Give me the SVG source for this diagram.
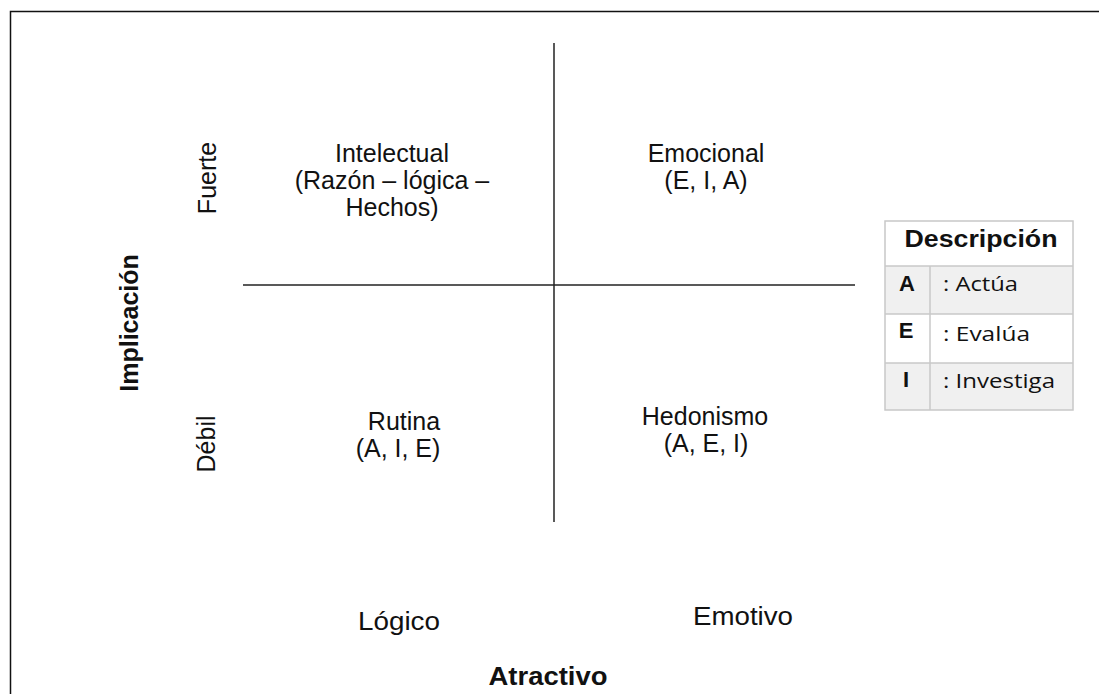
<svg xmlns="http://www.w3.org/2000/svg" width="1099" height="694" viewBox="0 0 1099 694">
<style>
.t{font-family:"Liberation Sans",Arial,sans-serif;font-size:25px;fill:#111;text-anchor:middle}
.b{font-family:"Liberation Sans",Arial,sans-serif;font-weight:bold;fill:#111;text-anchor:middle}
.c{font-family:"Open Sans","Liberation Sans",sans-serif;font-size:20px;fill:#111}
.ln{stroke:#222;stroke-width:1.5;fill:none}
.g{stroke:#c8c8c8;stroke-width:1.5}
</style>
<rect x="0" y="0" width="1099" height="694" fill="#fff"/>
<rect x="10.5" y="11.5" width="1100" height="700" fill="none" stroke="#111" stroke-width="1.5"/>
<g id="connectors">
<line class="ln" x1="554" y1="43" x2="554" y2="522"/>
<line class="ln" x1="243" y1="285" x2="855" y2="285"/>
</g>
<g id="intelectual">
<text class="t" x="392" y="162">Intelectual</text>
<text class="t" x="392" y="189">(Razón – lógica –</text>
<text class="t" x="392" y="216">Hechos)</text>
</g>
<g id="emocional">
<text class="t" x="706" y="162">Emocional</text>
<text class="t" x="706" y="189">(E, I, A)</text>
</g>
<g id="rutina">
<text class="t" x="404" y="430">Rutina</text>
<text class="t" x="398" y="457">(A, I, E)</text>
</g>
<g id="hedonismo">
<text class="t" x="705" y="425">Hedonismo</text>
<text class="t" x="706" y="452">(A, E, I)</text>
</g>
<g id="axis-y">
<text class="t" transform="translate(216,178) rotate(-90)">Fuerte</text>
<text class="t" transform="translate(215,444) rotate(-90)">Débil</text>
<text class="b" font-size="25" transform="translate(138,323) rotate(-90)">Implicación</text>
</g>
<g id="axis-x">
<text class="t" x="399" y="630" textLength="82" lengthAdjust="spacingAndGlyphs">Lógico</text>
<text class="t" x="743" y="625" textLength="100" lengthAdjust="spacingAndGlyphs">Emotivo</text>
<text class="b" font-size="25" x="548" y="685" textLength="119" lengthAdjust="spacingAndGlyphs">Atractivo</text>
</g>
<g id="legend">
<rect x="885" y="266" width="188" height="48" fill="#f0f0f0"/>
<rect x="885" y="363" width="188" height="47" fill="#f0f0f0"/>
<rect x="885" y="221" width="188" height="189" fill="none" class="g"/>
<line class="g" x1="885" y1="266" x2="1073" y2="266"/>
<line class="g" x1="885" y1="314" x2="1073" y2="314"/>
<line class="g" x1="885" y1="363" x2="1073" y2="363"/>
<line class="g" x1="930" y1="266" x2="930" y2="410"/>
<text class="b" font-size="23" x="981" y="247" textLength="153" lengthAdjust="spacingAndGlyphs">Descripción</text>
<text class="b" font-size="22" x="907" y="291">A</text>
<text class="b" font-size="22" x="906" y="338">E</text>
<text class="b" font-size="22" x="906" y="387">I</text>
<text class="c" x="943" y="291" textLength="75" lengthAdjust="spacingAndGlyphs">: Actúa</text>
<text class="c" x="943" y="341" textLength="87" lengthAdjust="spacingAndGlyphs">: Evalúa</text>
<text class="c" x="943" y="388" textLength="112" lengthAdjust="spacingAndGlyphs">: Investiga</text>
</g>
</svg>
